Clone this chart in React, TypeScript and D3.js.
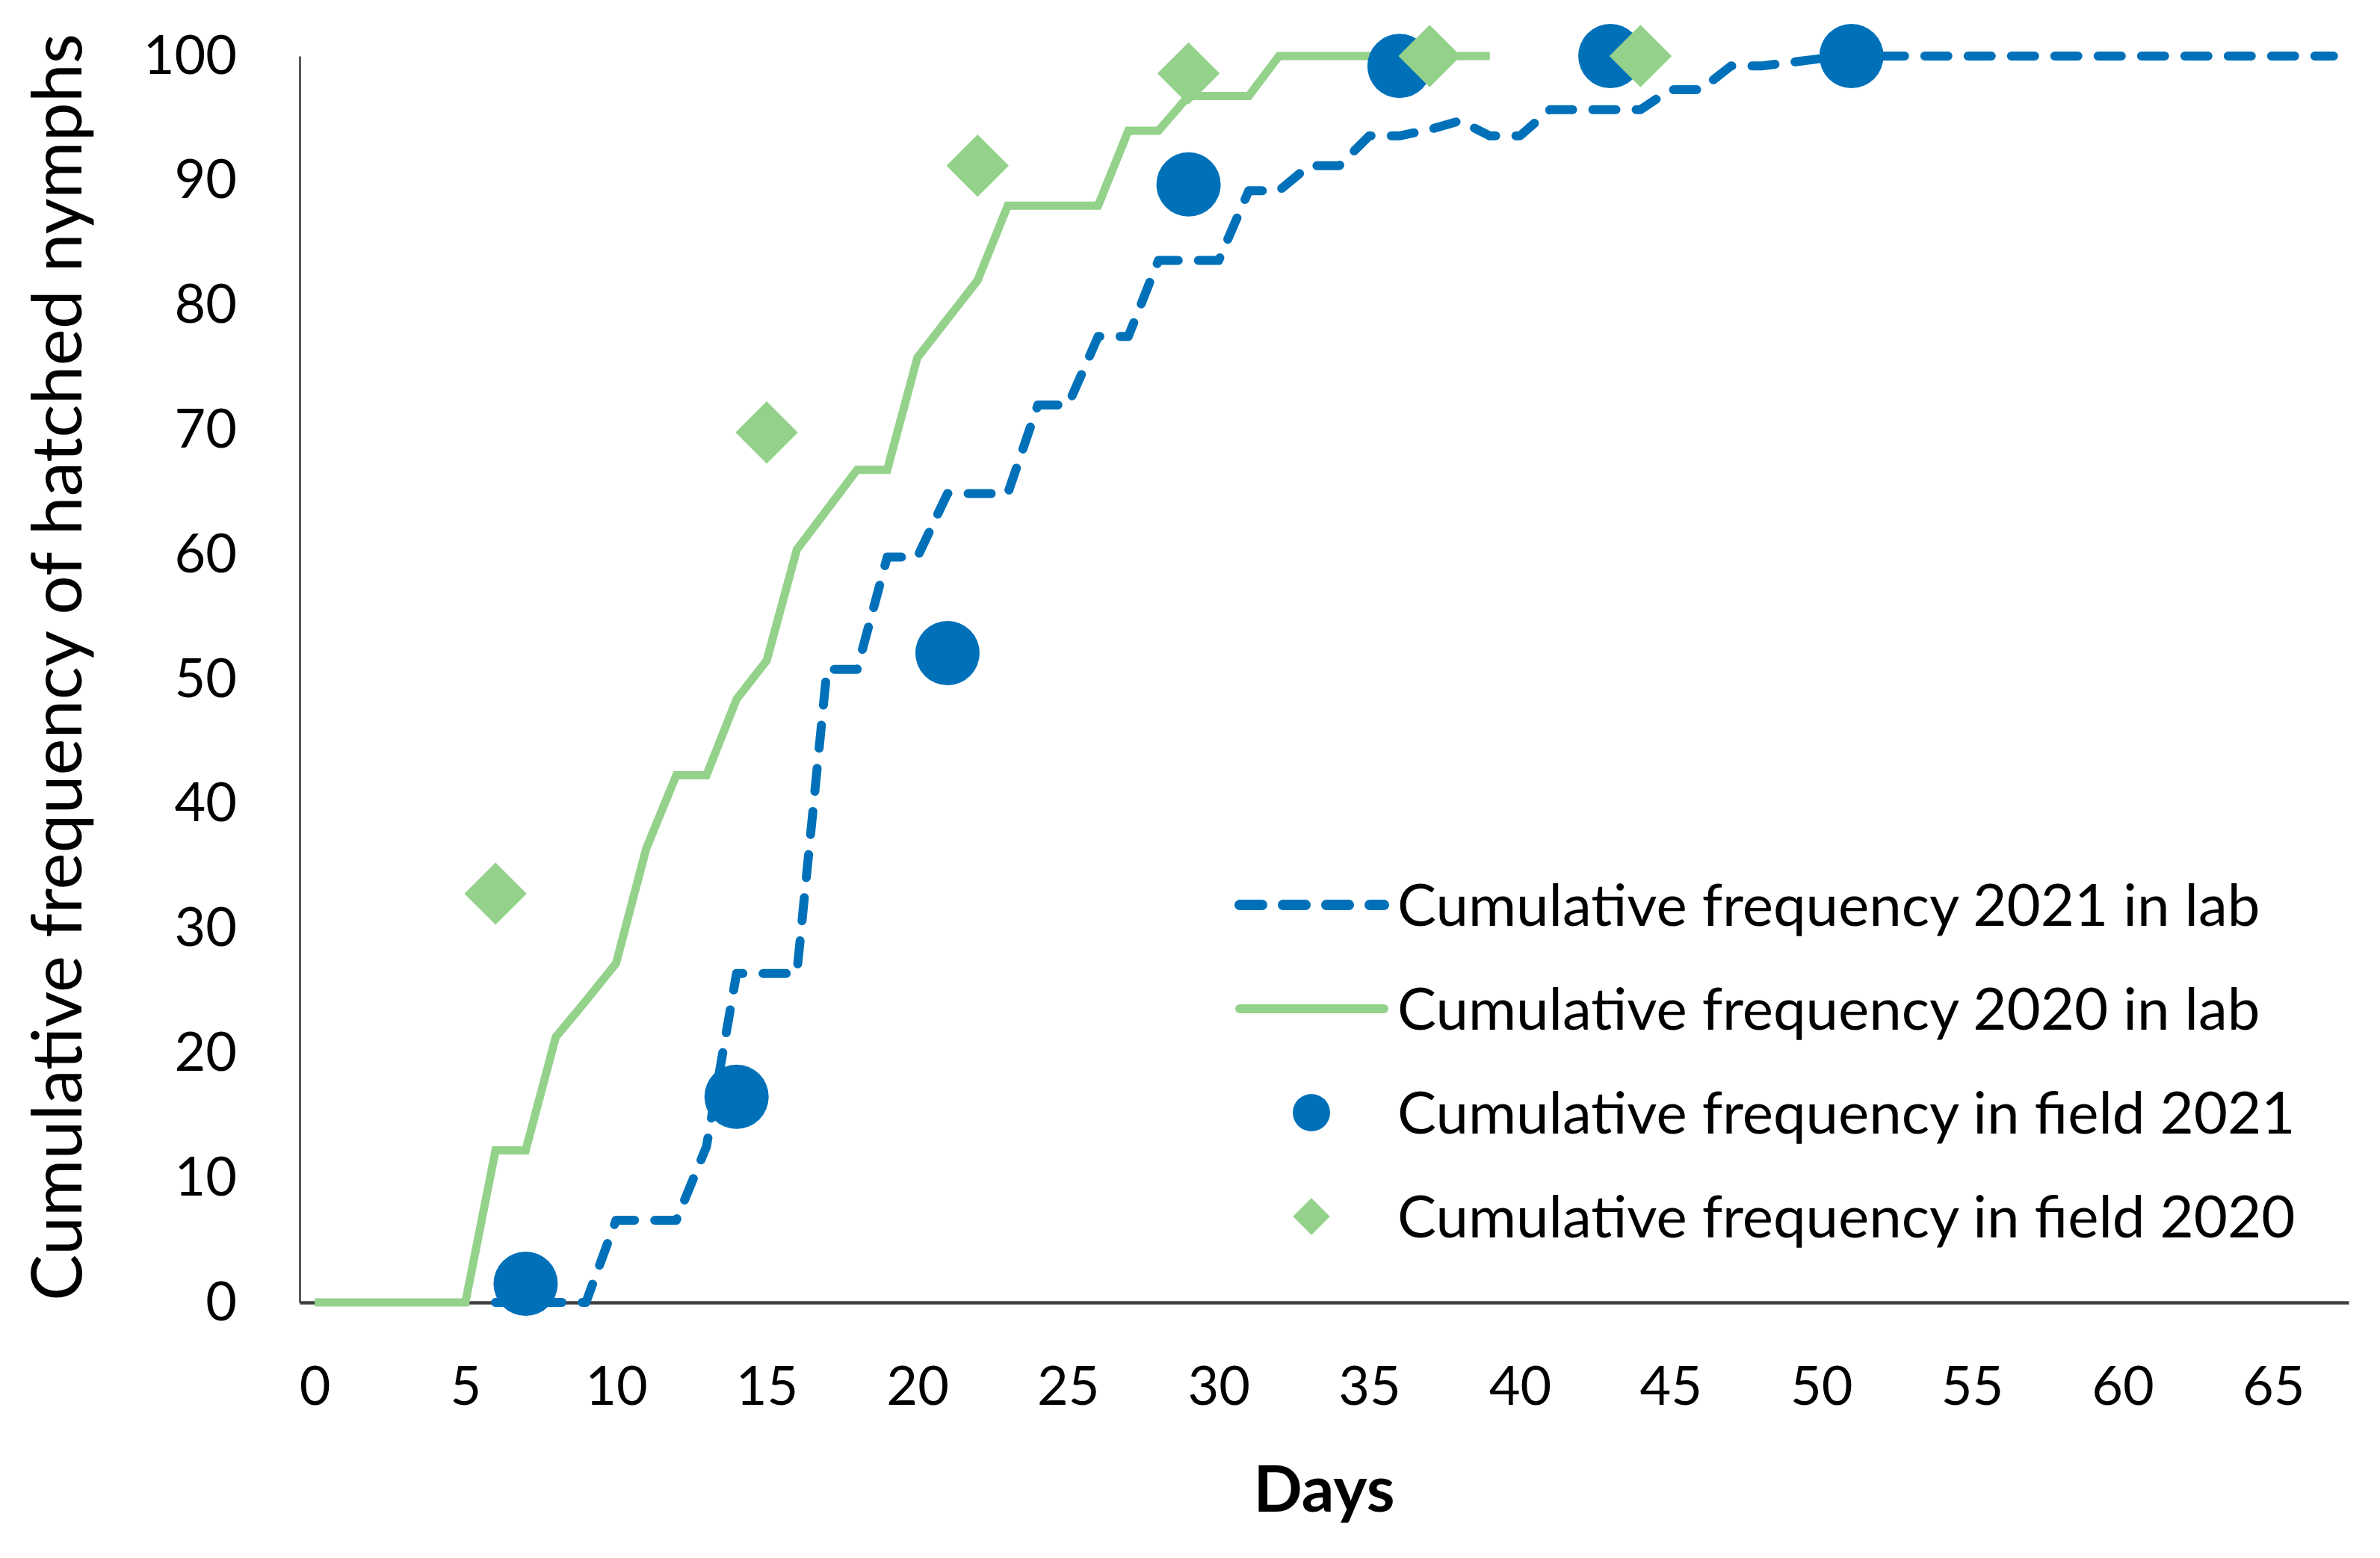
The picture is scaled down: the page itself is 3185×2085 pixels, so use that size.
import React, { Component } from 'react';
import * as d3 from 'd3';

// Cumulative frequency (%) of hatched nymphs, [day, value]
const lab2021: Array<[number, number]> = [
    [6, 0], [7, 0], [8, 0], [9, 0], [10, 6.6], [11, 6.6], [12, 6.6], [13, 12.5],
    [14, 26.4], [15, 26.4], [16, 26.4], [17, 50.8], [18, 50.8], [19, 59.8], [20, 59.8],
    [21, 64.9], [22, 64.9], [23, 64.9], [24, 72], [25, 72], [26, 77.5], [27, 77.5],
    [28, 83.6], [29, 83.6], [30, 83.6], [31, 89.2], [32, 89.2], [33, 91.2], [34, 91.2],
    [35, 93.6], [36, 93.6], [37, 94.1], [38, 94.8], [39, 93.6], [40, 93.6], [41, 95.7],
    [42, 95.7], [43, 95.7], [44, 95.7], [45, 97.3], [46, 97.3], [47, 99.2], [48, 99.2],
    [49, 99.5], [50, 99.8], [51, 100], [52, 100], [53, 100], [54, 100], [55, 100],
    [56, 100], [57, 100], [58, 100], [59, 100], [60, 100], [61, 100], [62, 100],
    [63, 100], [64, 100], [65, 100], [66, 100], [67, 100]
];

const lab2020: Array<[number, number]> = [
    [0, 0], [1, 0], [2, 0], [3, 0], [4, 0], [5, 0], [6, 12.2], [7, 12.2], [8, 21.3],
    [9, 24.2], [10, 27.2], [11, 36.4], [12, 42.3], [13, 42.3], [14, 48.4], [15, 51.5],
    [16, 60.4], [17, 63.6], [18, 66.8], [19, 66.8], [20, 75.8], [21, 78.9], [22, 82],
    [23, 88], [24, 88], [25, 88], [26, 88], [27, 94], [28, 94], [29, 96.8], [30, 96.8],
    [31, 96.8], [32, 100], [33, 100], [34, 100], [35, 100], [36, 100], [37, 100],
    [38, 100], [39, 100]
];

const field2021: Array<[number, number]> = [
    [7, 1.5], [14, 16.5], [21, 52.1], [29, 89.7], [36, 99.2], [43, 100], [51, 100]
];

const field2020: Array<[number, number]> = [
    [6, 32.8], [15, 69.8], [22, 91.2], [29, 98.6], [37, 100], [44, 100]
];

const xTicks = [0, 5, 10, 15, 20, 25, 30, 35, 40, 45, 50, 55, 60, 65];
const yTicks = [0, 10, 20, 30, 40, 50, 60, 70, 80, 90, 100];

const legendLabels = [
    'Cumulative frequency 2021 in lab',
    'Cumulative frequency 2020 in lab',
    'Cumulative frequency in field 2021',
    'Cumulative frequency in field 2020'
];

const BLUE = '#0071b9';
const GREEN = '#94d28b';
const FONT = 'Lato, "Open Sans", sans-serif';

export default class App extends Component {
    private canvas: React.RefObject<SVGSVGElement | null>;
    private width = 3185;
    private height = 2085;
    private plot = { left: 401, right: 3143, top: 75, bottom: 1743 };

    constructor(props: {}) {
        super(props);
        this.canvas = React.createRef();
    }

    componentDidMount() {
        document.body.style.margin = '0';
        this.buildChart();
    }

    buildChart = () => {
        const svg = d3.select(this.canvas.current);
        svg.selectAll('*').remove();

        const x = d3.scaleLinear()
            .domain([-0.5, 67.5])
            .range([this.plot.left, this.plot.right]);
        const y = d3.scaleLinear()
            .domain([0, 100])
            .range([this.plot.bottom, this.plot.top]);

        svg.append('rect')
            .attr('width', this.width)
            .attr('height', this.height)
            .attr('fill', '#ffffff');

        // Axes
        const yAxis = svg.append('g')
            .attr('transform', `translate(${this.plot.left},0)`)
            .call(d3.axisLeft(y).tickValues(yTicks).tickSize(0).tickPadding(84));
        yAxis.select('.domain').attr('stroke', '#595959').attr('stroke-width', 3);
        yAxis.selectAll('text')
            .attr('font-family', FONT)
            .attr('font-size', 72)
            .attr('fill', '#000');

        const xAxis = svg.append('g')
            .attr('transform', `translate(0,${this.plot.bottom})`)
            .call(d3.axisBottom(x).tickValues(xTicks).tickSize(0).tickPadding(86));
        xAxis.select('.domain').attr('stroke', '#404040').attr('stroke-width', 4.5);
        xAxis.selectAll('text')
            .attr('font-family', FONT)
            .attr('font-size', 72)
            .attr('fill', '#000');

        // Axis titles
        svg.append('text')
            .attr('transform', 'translate(109,893) rotate(-90)')
            .attr('text-anchor', 'middle')
            .attr('font-family', FONT)
            .attr('font-size', 93)
            .text('Cumulative frequency of hatched nymphs');

        svg.append('text')
            .attr('x', (this.plot.left + this.plot.right) / 2)
            .attr('y', 2023)
            .attr('text-anchor', 'middle')
            .attr('font-family', FONT)
            .attr('font-weight', 'bold')
            .attr('font-size', 86)
            .text('Days');

        // Lines
        const line = d3.line<[number, number]>()
            .x(d => x(d[0]))
            .y(d => y(d[1]));

        svg.append('path')
            .datum(lab2021)
            .attr('d', line)
            .attr('fill', 'none')
            .attr('stroke', BLUE)
            .attr('stroke-width', 12)
            .attr('stroke-linecap', 'round')
            .attr('stroke-linejoin', 'round')
            .attr('stroke-dasharray', '31 27');

        svg.append('path')
            .datum(lab2020)
            .attr('d', line)
            .attr('fill', 'none')
            .attr('stroke', GREEN)
            .attr('stroke-width', 11);

        // Field points
        svg.selectAll('.field2021')
            .data(field2021)
            .enter().append('circle')
            .attr('class', 'field2021')
            .attr('cx', d => x(d[0]))
            .attr('cy', d => y(d[1]))
            .attr('r', 43)
            .attr('fill', BLUE);

        const diamond = d3.symbol().type(d3.symbolSquare).size(59 * 59);
        svg.selectAll('.field2020')
            .data(field2020)
            .enter().append('path')
            .attr('class', 'field2020')
            .attr('d', diamond)
            .attr('transform', d => `translate(${x(d[0])},${y(d[1])}) rotate(45)`)
            .attr('fill', GREEN);

        // Legend
        const rowY = [1211, 1350, 1489, 1628];
        const legend = svg.append('g');

        legend.append('line')
            .attr('x1', 1659).attr('x2', 1852)
            .attr('y1', rowY[0]).attr('y2', rowY[0])
            .attr('stroke', BLUE)
            .attr('stroke-width', 14)
            .attr('stroke-linecap', 'round')
            .attr('stroke-dasharray', '30 28');

        legend.append('line')
            .attr('x1', 1659).attr('x2', 1852)
            .attr('y1', rowY[1]).attr('y2', rowY[1])
            .attr('stroke', GREEN)
            .attr('stroke-width', 12)
            .attr('stroke-linecap', 'round');

        legend.append('circle')
            .attr('cx', 1755).attr('cy', rowY[2])
            .attr('r', 25)
            .attr('fill', BLUE);

        legend.append('path')
            .attr('d', d3.symbol().type(d3.symbolSquare).size(35 * 35))
            .attr('transform', `translate(1755,${rowY[3]}) rotate(45)`)
            .attr('fill', GREEN);

        legend.selectAll('.legendLabel')
            .data(legendLabels)
            .enter().append('text')
            .attr('class', 'legendLabel')
            .attr('x', 1870)
            .attr('y', (d, i) => rowY[i])
            .attr('dy', '0.36em')
            .attr('font-family', FONT)
            .attr('font-size', 78)
            .text(d => d);
    }

    render() {
        return (
            <svg
                ref={this.canvas}
                width={this.width}
                height={this.height}
                style={{ display: 'block' }}
            />
        );
    }
}
